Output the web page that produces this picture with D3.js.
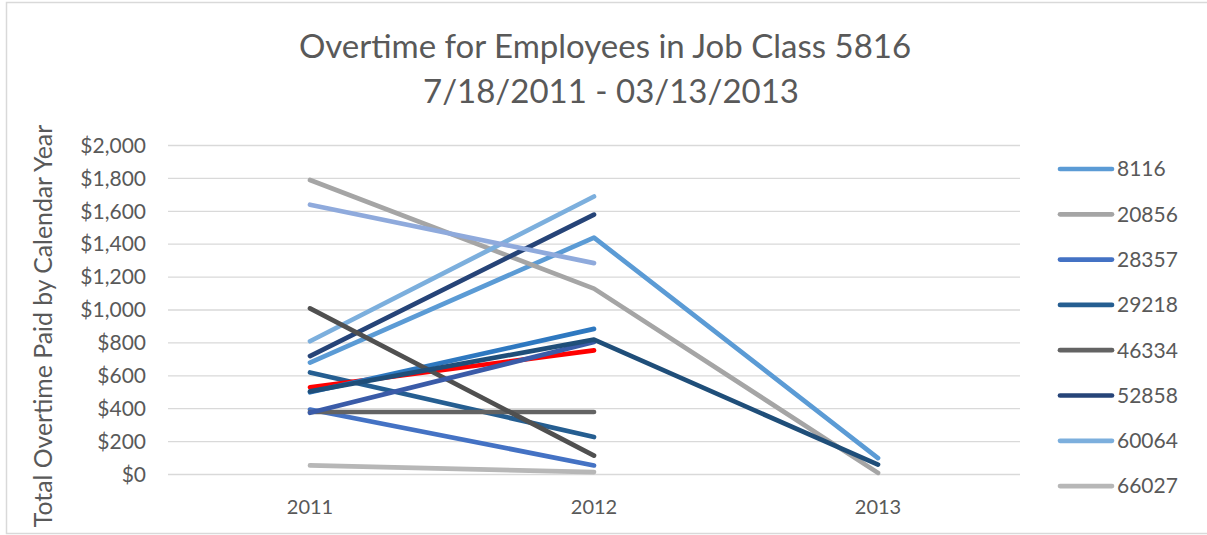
<!DOCTYPE html>
<html>
<head>
<meta charset="utf-8">
<script src="https://cdn.jsdelivr.net/npm/d3@7"></script>
<style>
  body { margin: 0; background: #fff; }
  text { font-family: Lato, "Open Sans", sans-serif; fill: #595959; }
</style>
</head>
<body>
<div id="chart"></div>
<script>
// categories
let years = ["2011", "2012", "2013"]
let yTicks = [0, 200, 400, 600, 800, 1000, 1200, 1400, 1600, 1800, 2000]

// series (employee ids), only the first 8 show up in the legend
let seriesNames = ["8116", "20856", "28357", "29218", "46334", "52858", "60064", "66027",
    "Series 9", "Series 10", "Series 11", "Series 12", "Series 13", "Series 14"]
let seriesColors = ["#5B9BD5", "#A5A5A5", "#4472C4", "#255E91", "#636363", "#264478", "#7CAFDD", "#B7B7B7",
    "#8FAADC", "#FF0000", "#2E78C0", "#505050", "#3A5BA8", "#1F4E79"]

// overtime per year (null = no value)
let v8116 = [680, 1440, 100]
let v20856 = [1790, 1130, 10]
let v28357 = [395, 55, null]
let v29218 = [620, 228, null]
let v46334 = [380, 380, null]
let v52858 = [720, 1580, null]
let v60064 = [810, 1690, null]
let v66027 = [55, 15, null]
let v9 = [1640, 1285, null]
let v10 = [530, 755, null]
let v11 = [500, 885, null]
let v12 = [1010, 115, null]
let v13 = [375, 805, null]
let v14 = [505, 820, 60]
let seriesValues = [v8116, v20856, v28357, v29218, v46334, v52858, v60064, v66027, v9, v10, v11, v12, v13, v14]

let width = 1207
let height = 535
let margin = { top: 145.5, right: 187, bottom: 60.5, left: 168 }

let svg = d3.select("#chart")
    .append("svg")
    .attr("width", width)
    .attr("height", height)

// outer frame
svg.append("rect")
    .attr("x", 6.5).attr("y", 2.5)
    .attr("width", width + 10).attr("height", 531)
    .attr("fill", "none")
    .attr("stroke", "#D9D9D9")
    .attr("stroke-width", 1.5)

let x = d3.scaleBand()
    .domain(years)
    .range([margin.left, width - margin.right])
let y = d3.scaleLinear()
    .domain([0, 2000])
    .range([height - margin.bottom, margin.top])

// gridlines
svg.append("g")
    .selectAll("line")
    .data(yTicks)
    .enter()
    .append("line")
    .attr("x1", margin.left)
    .attr("x2", width - margin.right)
    .attr("y1", d => y(d))
    .attr("y2", d => y(d))
    .attr("stroke", "#D9D9D9")
    .attr("stroke-width", 1.3)

// y axis labels
let yAxis = d3.axisLeft(y)
    .tickValues(yTicks)
    .tickFormat(d => "$" + d3.format(",")(d))
    .tickSize(0)
    .tickPadding(0)
svg.append("g")
    .attr("transform", "translate(146,0)")
    .call(yAxis)
    .call(g => g.select(".domain").remove())
    .selectAll("text")
    .style("font-size", "21px")
    .attr("fill", "#595959")

// x axis labels
let xAxis = d3.axisBottom(x).tickSize(0).tickPadding(0)
svg.append("g")
    .attr("transform", "translate(0,500)")
    .call(xAxis)
    .call(g => g.select(".domain").remove())
    .selectAll("text")
    .style("font-size", "20px")
    .attr("fill", "#595959")

// lines
let line = d3.line()
    .defined(d => d != null)
    .x((d, i) => x(years[i]) + x.bandwidth() / 2)
    .y(d => y(d))

svg.append("g")
    .selectAll("path")
    .data(seriesValues)
    .enter()
    .append("path")
    .attr("d", d => line(d))
    .attr("fill", "none")
    .attr("stroke", (d, i) => seriesColors[i])
    .attr("stroke-width", 4.7)
    .attr("stroke-linecap", "round")
    .attr("stroke-linejoin", "round")

// titles
svg.append("text")
    .attr("x", 605).attr("y", 58)
    .attr("text-anchor", "middle")
    .style("font-size", "33px")
    .text("Overtime for Employees in Job Class 5816")
svg.append("text")
    .attr("x", 611).attr("y", 103)
    .attr("text-anchor", "middle")
    .style("font-size", "33px")
    .text("7/18/2011 - 03/13/2013")

svg.append("text")
    .attr("transform", "translate(52,326) rotate(-90)")
    .attr("text-anchor", "middle")
    .style("font-size", "24.8px")
    .text("Total Overtime Paid by Calendar Year")

// legend (first 8)
let legend = svg.append("g")
    .selectAll("g")
    .data(seriesNames.slice(0, 8))
    .enter()
    .append("g")
    .attr("transform", (d, i) => "translate(0," + (169 + i * 45.3) + ")")
legend.append("line")
    .attr("x1", 1060).attr("x2", 1112)
    .attr("stroke", (d, i) => seriesColors[i])
    .attr("stroke-width", 4.7)
    .attr("stroke-linecap", "round")
legend.append("text")
    .attr("x", 1117)
    .attr("dy", "0.35em")
    .style("font-size", "21px")
    .text(d => d)
</script>
</body>
</html>
